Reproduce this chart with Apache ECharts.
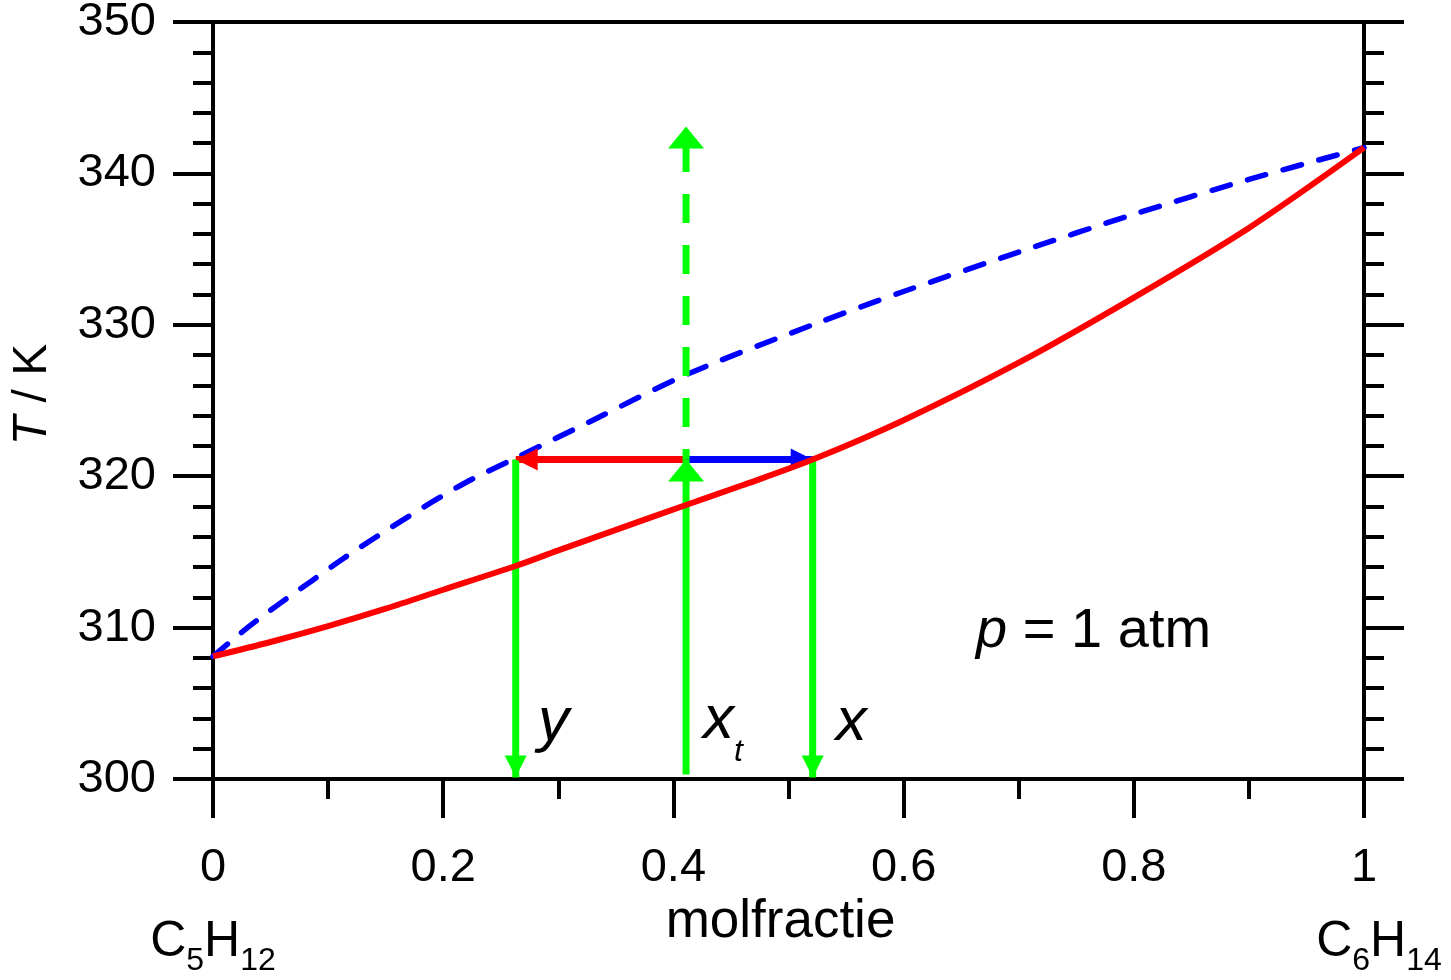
<!DOCTYPE html>
<html>
<head>
<meta charset="utf-8">
<script src="https://cdn.jsdelivr.net/npm/echarts@6/dist/echarts.min.js"></script>
<style>
html,body{margin:0;padding:0;background:#fff;}
#chart{width:1451px;height:980px;}
</style>
</head>
<body>
<div id="chart"></div>
<script>
// ---- data ----
const liquidX = [0, 0.05, 0.1, 0.15, 0.2, 0.264, 0.3, 0.35, 0.411, 0.46, 0.521, 0.6, 0.7, 0.8, 0.9, 1];
const liquidT = [308.1, 309.05, 310.1, 311.25, 312.5, 314.1, 315.1, 316.45, 318.1, 319.4, 321.1, 323.7, 327.5, 331.8, 336.4, 341.7];
const vaporX = [0, 0.03, 0.06, 0.086, 0.112, 0.141, 0.169, 0.197, 0.225, 0.263, 0.33, 0.411, 0.521, 0.6, 0.7, 0.8, 0.9, 1];
const vaporT = [308.1, 310.0, 311.7, 313.1, 314.5, 315.95, 317.3, 318.6, 319.8, 321.2, 323.7, 326.7, 330.0, 332.2, 334.8, 337.3, 339.6, 341.7];

const compY = 0.263;    // vapour composition
const compXt = 0.411;   // overall composition
const compX = 0.521;    // liquid composition
const tieT = 321.1;     // tie-line temperature
const feedBottomT = 300.3;
const dropTipT = 300.1;
const heatStartT = 342.0;
const heatTipT = 343.1;

const xTickInterval = 0.2;
const yTickInterval = 10;
const endFormulas = { 0: ['C', '5', 'H', '12'], 1: ['C', '6', 'H', '14'] };

const annotations = [
  { x: 0.2823, T: 303.73, text: '{i|y}' },
  { x: 0.4257, T: 303.73, text: '{ix|x}{st|t}' },
  { x: 0.541, T: 303.73, text: '{i|x}' },
  { x: 0.663, T: 309.75, text: '{p|p}{r| = 1 atm}' }
];

// ---- chart ----
const FF = '"Liberation Sans", Arial, sans-serif';
const zip = (a, b) => a.map((v, i) => [v, b[i]]);
const chart = echarts.init(document.getElementById('chart'));

const axisLine = { show: true, onZero: false, lineStyle: { color: '#000', width: 4 } };

function seg(p1, p2, color, width, dash) {
  return {
    type: 'line', data: [p1, p2], symbol: 'none', silent: true, clip: false,
    lineStyle: { color: color, width: width, type: dash || 'solid', cap: 'butt', opacity: 1 },
    z: 3
  };
}

const heads = [
  { value: [compXt, tieT], size: [36, 22], rot: 0, off: [0, 11], color: '#00ff00' },
  { value: [compXt, heatTipT], size: [36, 22], rot: 0, off: [0, 11], color: '#00ff00' },
  { value: [compY, dropTipT], size: [22, 22], rot: 180, off: [0, -11], color: '#00ff00' },
  { value: [compX, dropTipT], size: [22, 22], rot: 180, off: [0, -11], color: '#00ff00' },
  { value: [compY, tieT], size: [22, 22], rot: 90, off: [11, 0], color: '#ff0000' },
  { value: [compX, tieT], size: [22, 22], rot: -90, off: [-11, 0], color: '#0000ff' }
];

const option = {
  animation: false,
  backgroundColor: '#fff',
  grid: { left: 213, right: 87, top: 22, bottom: 201, containLabel: false, outerBoundsMode: 'none' },
  xAxis: [
    {
      type: 'value', min: 0, max: 1, interval: xTickInterval, position: 'bottom',
      axisLine: axisLine,
      axisTick: { show: true, inside: false, length: 39, lineStyle: { color: '#000', width: 4 } },
      minorTick: { show: true, splitNumber: 2, length: 20, lineStyle: { color: '#000', width: 4 } },
      splitLine: { show: false },
      axisLabel: {
        margin: 66, color: '#000', fontFamily: FF, fontSize: 47,
        formatter: function (v) {
          const r = Math.round(v * 10) / 10;
          const f = endFormulas[r];
          if (f) {
            const c = r === 1 ? 'c2' : 'c';
            return '{n|' + r + '}\n{' + c + '|' + f[0] + '}{s|' + f[1] + '}{c|' + f[2] + '}{s|' + f[3] + '}';
          }
          return '{n|' + r + '}';
        },
        rich: {
          n: { fontFamily: FF, fontSize: 47, lineHeight: 47, verticalAlign: 'top', color: '#000' },
          c: { fontFamily: FF, fontSize: 50, padding: [25, 0, 0, 0], verticalAlign: 'top', color: '#000' },
          c2: { fontFamily: FF, fontSize: 50, padding: [25, 0, 0, 30], verticalAlign: 'top', color: '#000' },
          s: { fontFamily: FF, fontSize: 32, padding: [53, 0, 0, 0], verticalAlign: 'top', color: '#000' }
        }
      },
      name: 'molfractie', nameLocation: 'middle', nameGap: 117, nameMoveOverlap: false,
      nameTextStyle: { fontFamily: FF, fontSize: 53, color: '#000', padding: [0, 16, 0, 0] }
    },
    {
      type: 'value', min: 0, max: 1, position: 'top',
      axisLine: axisLine, axisTick: { show: false }, axisLabel: { show: false },
      splitLine: { show: false }
    }
  ],
  yAxis: [
    {
      type: 'value', min: 300, max: 350, interval: yTickInterval, position: 'left',
      axisLine: axisLine,
      axisTick: { show: true, inside: false, length: 40, lineStyle: { color: '#000', width: 4 } },
      minorTick: { show: true, splitNumber: 5, length: 20, lineStyle: { color: '#000', width: 4 } },
      splitLine: { show: false },
      axisLabel: { margin: 57, color: '#000', fontFamily: FF, fontSize: 47, padding: [6, 0, 0, 0] },
      name: '{i|T} / K', nameLocation: 'middle', nameGap: 156, nameMoveOverlap: false,
      nameTextStyle: {
        fontFamily: FF, fontSize: 48, color: '#000', padding: [0, 0, 0, 12],
        rich: { i: { fontFamily: FF, fontSize: 48, fontStyle: 'italic', color: '#000' } }
      }
    },
    {
      type: 'value', min: 300, max: 350, interval: yTickInterval, position: 'right',
      axisLine: axisLine,
      axisTick: { show: true, inside: false, length: 40, lineStyle: { color: '#000', width: 4 } },
      minorTick: { show: true, splitNumber: 5, length: 20, lineStyle: { color: '#000', width: 4 } },
      splitLine: { show: false },
      axisLabel: { show: false }
    }
  ],
  series: [
    {
      type: 'line', name: 'vapour', data: zip(vaporX, vaporT), symbol: 'none',
      smooth: 0.3, clip: false, silent: true, z: 2,
      lineStyle: { color: '#0000ff', width: 5.5, type: [19, 18], cap: 'round', opacity: 1 }
    },
    seg([compXt, tieT], [compY, tieT], '#ff0000', 7),
    seg([compXt, tieT], [compX, tieT], '#0000ff', 7),
    seg([compXt, feedBottomT], [compXt, tieT], '#00ff00', 7),
    seg([compXt, heatStartT], [compXt, tieT], '#00ff00', 7, [29, 22]),
    seg([compY, tieT], [compY, dropTipT], '#00ff00', 7),
    seg([compX, tieT], [compX, dropTipT], '#00ff00', 7),
    {
      type: 'scatter', silent: true, z: 4, clip: false,
      itemStyle: { opacity: 1 },
      data: heads.map(h => ({
        value: h.value, symbol: 'triangle', symbolSize: h.size, symbolRotate: h.rot,
        symbolOffset: h.off, itemStyle: { color: h.color, opacity: 1 }
      }))
    },
    {
      type: 'line', name: 'liquid', data: zip(liquidX, liquidT), symbol: 'none',
      smooth: 0.3, clip: false, silent: true, z: 5,
      lineStyle: { color: '#ff0000', width: 6, opacity: 1 }
    },
    {
      type: 'scatter', silent: true, z: 6, symbolSize: 0, clip: false,
      itemStyle: { opacity: 1 },
      data: annotations.map(a => ({
        value: [a.x, a.T],
        itemStyle: { opacity: 1 },
        label: {
          show: true, position: 'right', distance: 0, formatter: a.text,
          fontFamily: FF, fontSize: 56, color: '#000', opacity: 1,
          textBorderWidth: 0,
          rich: {
            i: { fontFamily: FF, fontSize: 62, fontStyle: 'italic', color: '#000', lineHeight: 62 },
            p: { fontFamily: FF, fontSize: 56, fontStyle: 'italic', color: '#000', lineHeight: 56 },
            r: { fontFamily: FF, fontSize: 56, color: '#000', lineHeight: 56 },
            ix: { fontFamily: FF, fontSize: 62, fontStyle: 'italic', color: '#000', padding: [15, 0, 0, 0], verticalAlign: 'top', lineHeight: 92 },
            st: { fontFamily: FF, fontSize: 32, fontStyle: 'italic', color: '#000', padding: [62, 0, 0, 0], verticalAlign: 'top', lineHeight: 96 }
          }
        }
      }))
    }
  ]
};
chart.setOption(option);
</script>
</body>
</html>
